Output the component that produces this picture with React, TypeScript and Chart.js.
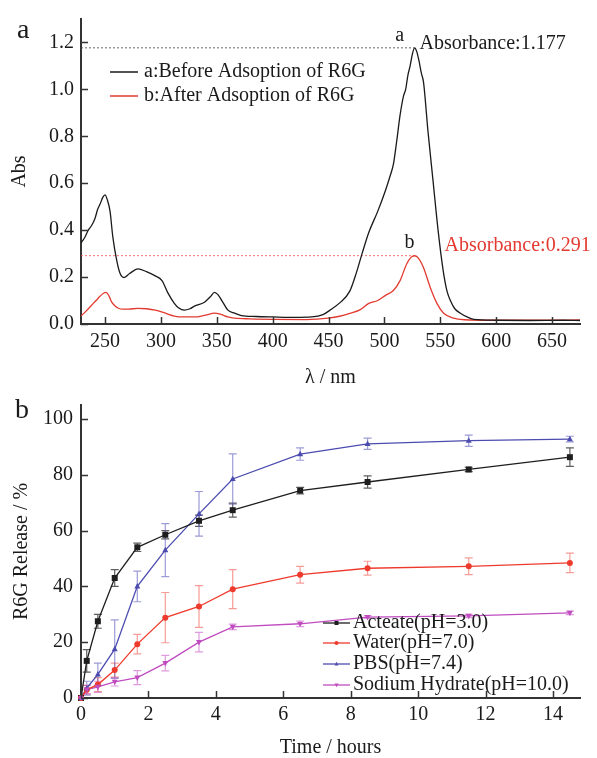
import React, { useEffect, useRef } from 'react';
import { Chart, registerables } from 'chart.js';

Chart.register(...registerables);

const FONT = "'Liberation Serif', 'Times New Roman', serif";
const AXIS_COLOR = '#333333';
const TEXT_COLOR = '#1a1a1a';

// ---------- Panel a : UV-vis spectra ----------
const SPEC_X_MIN = 228.5;
const SPEC_X_MAX = 675;
const SPEC_Y_MAX = 1.3;
const SPEC_X_TICKS = [250, 300, 350, 400, 450, 500, 550, 600, 650];
const SPEC_Y_TICKS = [0, 0.2, 0.4, 0.6, 0.8, 1.0, 1.2];

const WL_A = [228.5, 232, 235, 238, 241, 243.5, 245.5, 248, 250, 252, 254.5, 257, 260.5, 263.5, 267, 272, 279.5, 287, 294.5, 301, 306, 312, 316, 321, 326, 330, 339, 344, 348, 351, 354.5, 360, 366, 372, 385, 400, 420, 435, 445, 451, 460, 469, 475, 480, 486, 494, 501, 505, 508, 511, 514, 517, 519, 521, 523, 525, 527, 529, 531, 533, 535, 539, 543.5, 548, 552.5, 556, 559, 563, 568, 574, 580, 600, 630, 660, 675];
const ABS_A = [0.345, 0.37, 0.40, 0.42, 0.45, 0.49, 0.51, 0.54, 0.55, 0.53, 0.48, 0.37, 0.27, 0.215, 0.198, 0.215, 0.235, 0.223, 0.206, 0.185, 0.135, 0.088, 0.068, 0.059, 0.065, 0.076, 0.093, 0.115, 0.135, 0.125, 0.10, 0.059, 0.046, 0.036, 0.032, 0.03, 0.028, 0.03, 0.04, 0.058, 0.09, 0.14, 0.22, 0.30, 0.39, 0.48, 0.57, 0.63, 0.68, 0.78, 0.89, 0.97, 1.0, 1.06, 1.10, 1.15, 1.177, 1.16, 1.12, 1.07, 1.03, 0.82, 0.61, 0.40, 0.23, 0.14, 0.10, 0.065, 0.046, 0.03, 0.02, 0.016, 0.015, 0.016, 0.015];

const WL_B = [228.5, 233, 238, 242, 245.5, 249, 251, 253.5, 256, 259, 262, 266, 271, 279.5, 287, 295, 304, 312, 320, 330, 340, 348, 353, 360, 366, 380, 400, 430, 450, 460, 469, 478, 486, 494, 501, 508, 514, 520, 524, 527, 530, 535, 541, 547, 553, 562, 577, 600, 640, 675];
const ABS_B = [0.034, 0.055, 0.08, 0.10, 0.118, 0.132, 0.135, 0.12, 0.093, 0.077, 0.067, 0.063, 0.063, 0.067, 0.065, 0.059, 0.046, 0.034, 0.03, 0.03, 0.038, 0.046, 0.042, 0.03, 0.025, 0.022, 0.02, 0.019, 0.025, 0.033, 0.045, 0.06, 0.088, 0.10, 0.122, 0.143, 0.185, 0.257, 0.285, 0.291, 0.283, 0.24, 0.156, 0.088, 0.046, 0.025, 0.017, 0.016, 0.016, 0.017];

const PEAK_WL_A = 527;
const PEAK_ABS_A = 1.177;
const PEAK_WL_B = 527;
const PEAK_ABS_B = 0.291;

const SPEC_LABELS = ['a:Before Adsoption of R6G', 'b:After Adsoption of R6G'];
const SPEC_COLORS = ['#1a1a1a', '#e23a30'];

// ---------- Panel b : release ----------
const REL_X_MAX = 14.8;
const REL_Y_MAX = 105;
const REL_X_TICKS = [0, 2, 4, 6, 8, 10, 12, 14];
const REL_Y_TICKS = [0, 20, 40, 60, 80, 100];

const TIME = [0, 0.17, 0.5, 1, 1.67, 2.5, 3.5, 4.5, 6.5, 8.5, 11.5, 14.5];
const ACETATE = [0, 13.3, 27.5, 43, 54, 58.5, 63.5, 67.3, 74.3, 77.4, 81.9, 86.3];
const ACETATE_ERR = [0, 4, 2.5, 3, 1.5, 1.5, 2, 2.5, 1.2, 2.2, 0.8, 3.3];
const WATER = [0, 3, 4.8, 10, 19.3, 28.8, 32.8, 39, 44.2, 46.5, 47.2, 48.4];
const WATER_ERR = [0, 1.5, 2.5, 2.5, 3.5, 9, 7.5, 7, 3, 2.5, 3, 3.5];
const PBS = [0, 3.5, 8.5, 17.5, 40, 53, 66, 78.5, 87.4, 91.1, 92.2, 92.8];
const PBS_ERR = [0, 2.5, 4, 10.5, 5.5, 9.5, 8, 9, 2.2, 2, 2, 1];
const NAOH = [0, 3, 4, 5.8, 7.3, 12.5, 20, 25.5, 26.6, 29, 29.4, 30.5];
const NAOH_ERR = [0, 1.5, 2, 1.5, 2.5, 2.8, 3.5, 1, 1, 0.5, 0.6, 0.6];

const REL_LABELS = ['Acteate(pH=3.0)', 'Water(pH=7.0)', 'PBS(pH=7.4)', 'Sodium Hydrate(pH=10.0)'];
const REL_COLORS = ['#1e1e1e', '#ee3a2c', '#4c4cb0', '#c04cc0'];
const REL_ERR_COLORS = ['rgba(40,40,40,0.75)', 'rgba(240,90,80,0.6)', 'rgba(90,90,190,0.6)', 'rgba(200,90,200,0.6)'];
const REL_MARKERS = ['rect', 'circle', 'triangle', 'triangleDown'];

// ---------- helpers / plugins ----------
function toXY(xs: number[], ys: number[]) {
  return xs.map((x, i) => ({ x, y: ys[i] }));
}

const inwardTicks = {
  id: 'inwardTicks',
  afterDraw(chart: any) {
    const { ctx, chartArea, scales } = chart;
    ctx.save();
    ctx.strokeStyle = AXIS_COLOR;
    ctx.lineWidth = 1.5;
    scales.x.ticks.forEach((t: any) => {
      const px = Math.round(scales.x.getPixelForValue(t.value)) + 0.5;
      ctx.beginPath();
      ctx.moveTo(px, chartArea.bottom);
      ctx.lineTo(px, chartArea.bottom - 7);
      ctx.stroke();
    });
    scales.y.ticks.forEach((t: any) => {
      const py = Math.round(scales.y.getPixelForValue(t.value)) + 0.5;
      ctx.beginPath();
      ctx.moveTo(chartArea.left, py);
      ctx.lineTo(chartArea.left + 7, py);
      ctx.stroke();
    });
    ctx.restore();
  },
};

function drawMarker(ctx: CanvasRenderingContext2D, style: string, x: number, y: number, r: number, color: string) {
  ctx.save();
  ctx.fillStyle = color;
  ctx.beginPath();
  if (style === 'rect') {
    ctx.rect(x - r, y - r, 2 * r, 2 * r);
  } else if (style === 'circle') {
    ctx.arc(x, y, r, 0, Math.PI * 2);
  } else if (style === 'triangle') {
    ctx.moveTo(x, y - r * 1.1);
    ctx.lineTo(x + r, y + r * 0.7);
    ctx.lineTo(x - r, y + r * 0.7);
    ctx.closePath();
  } else {
    ctx.moveTo(x, y + r * 1.1);
    ctx.lineTo(x + r, y - r * 0.7);
    ctx.lineTo(x - r, y - r * 0.7);
    ctx.closePath();
  }
  ctx.fill();
  ctx.restore();
}

const specAnnotations = {
  id: 'specAnnotations',
  afterDatasetsDraw(chart: any) {
    const { ctx, scales } = chart;
    const { x, y } = scales;
    ctx.save();
    ctx.font = `20px ${FONT}`;
    ctx.textBaseline = 'alphabetic';
    // peak a
    const ax = x.getPixelForValue(PEAK_WL_A);
    const ay = y.getPixelForValue(PEAK_ABS_A);
    ctx.fillStyle = TEXT_COLOR;
    ctx.textAlign = 'center';
    ctx.fillText('a', ax - 15, ay - 7);
    ctx.textAlign = 'left';
    ctx.fillText('Absorbance:' + PEAK_ABS_A.toFixed(3), ax + 5, ay + 1);
    // peak b
    const bx = x.getPixelForValue(PEAK_WL_B);
    const by = y.getPixelForValue(PEAK_ABS_B);
    ctx.textAlign = 'center';
    ctx.fillText('b', bx - 5, by - 8);
    ctx.fillStyle = SPEC_COLORS[1];
    ctx.textAlign = 'left';
    ctx.fillText('Absorbance:' + PEAK_ABS_B.toFixed(3), bx + 30, by - 5);
    // legend
    ctx.textBaseline = 'middle';
    SPEC_LABELS.forEach((label, i) => {
      const ly = 72 + i * 24;
      ctx.strokeStyle = SPEC_COLORS[i];
      ctx.lineWidth = 1.5;
      ctx.beginPath();
      ctx.moveTo(110, ly);
      ctx.lineTo(138, ly);
      ctx.stroke();
      ctx.fillStyle = TEXT_COLOR;
      ctx.fillText(label, 144, ly);
    });
    // panel label
    ctx.font = `28px ${FONT}`;
    ctx.textBaseline = 'alphabetic';
    ctx.textAlign = 'left';
    ctx.fillText('a', 17, 38);
    ctx.restore();
  },
};

const errorBars = {
  id: 'errorBars',
  beforeDatasetsDraw(chart: any) {
    const { ctx, scales } = chart;
    ctx.save();
    ctx.lineWidth = 1.2;
    chart.data.datasets.forEach((ds: any) => {
      if (!ds.errors) return;
      ctx.strokeStyle = ds.errorColor;
      ds.data.forEach((p: any, i: number) => {
        const e = ds.errors[i];
        if (!e) return;
        const px = scales.x.getPixelForValue(p.x);
        const top = scales.y.getPixelForValue(p.y + e);
        const bot = scales.y.getPixelForValue(p.y - e);
        ctx.beginPath();
        ctx.moveTo(px, top);
        ctx.lineTo(px, bot);
        ctx.moveTo(px - 4, top);
        ctx.lineTo(px + 4, top);
        ctx.moveTo(px - 4, bot);
        ctx.lineTo(px + 4, bot);
        ctx.stroke();
      });
    });
    ctx.restore();
  },
};

const releaseMarkers = {
  id: 'releaseMarkers',
  afterDatasetsDraw(chart: any) {
    const { ctx, scales } = chart;
    chart.data.datasets.forEach((ds: any, di: number) => {
      ds.data.forEach((p: any) => {
        drawMarker(ctx, REL_MARKERS[di], scales.x.getPixelForValue(p.x), scales.y.getPixelForValue(p.y), 3, REL_COLORS[di]);
      });
    });
    // legend
    ctx.save();
    ctx.font = `20px ${FONT}`;
    ctx.textBaseline = 'middle';
    ctx.textAlign = 'left';
    const rows = [238, 258, 279, 300];
    REL_LABELS.forEach((label, i) => {
      const ly = rows[i];
      ctx.strokeStyle = REL_COLORS[i];
      ctx.lineWidth = 1.3;
      ctx.beginPath();
      ctx.moveTo(323, ly);
      ctx.lineTo(350, ly);
      ctx.stroke();
      drawMarker(ctx, REL_MARKERS[i], 336.5, ly, 2, REL_COLORS[i]);
      ctx.fillStyle = TEXT_COLOR;
      ctx.fillText(label, 353, ly);
    });
    ctx.font = `28px ${FONT}`;
    ctx.textBaseline = 'alphabetic';
    ctx.fillText('b', 15, 33);
    ctx.restore();
  },
};

function axisCommon() {
  return {
    grid: { display: false, drawTicks: false },
    border: { display: true, color: AXIS_COLOR, width: 2 },
  };
}

function SpectraChart() {
  const ref = useRef<HTMLCanvasElement>(null);
  useEffect(() => {
    const chart = new Chart(ref.current as HTMLCanvasElement, {
      type: 'line',
      data: {
        datasets: [
          {
            label: SPEC_LABELS[0],
            data: toXY(WL_A, ABS_A),
            borderColor: SPEC_COLORS[0],
            borderWidth: 1.3,
            pointRadius: 0,
            cubicInterpolationMode: 'monotone',
          },
          {
            label: SPEC_LABELS[1],
            data: toXY(WL_B, ABS_B),
            borderColor: SPEC_COLORS[1],
            borderWidth: 1.3,
            pointRadius: 0,
            cubicInterpolationMode: 'monotone',
          },
          {
            label: 'refA',
            data: [{ x: SPEC_X_MIN, y: PEAK_ABS_A }, { x: PEAK_WL_A, y: PEAK_ABS_A }],
            borderColor: '#444',
            borderWidth: 0.8,
            borderDash: [2, 2],
            pointRadius: 0,
          },
          {
            label: 'refB',
            data: [{ x: SPEC_X_MIN, y: PEAK_ABS_B }, { x: PEAK_WL_B, y: PEAK_ABS_B }],
            borderColor: '#e8554c',
            borderWidth: 0.8,
            borderDash: [2, 2],
            pointRadius: 0,
          },
        ],
      } as any,
      options: {
        responsive: false,
        animation: false,
        layout: { padding: { left: 0, right: 17, top: 16, bottom: 0 } },
        plugins: { legend: { display: false }, tooltip: { enabled: false } },
        scales: {
          x: {
            type: 'linear',
            min: SPEC_X_MIN,
            max: SPEC_X_MAX,
            ...axisCommon(),
            afterBuildTicks: (s: any) => { s.ticks = SPEC_X_TICKS.map((v) => ({ value: v })); },
            afterFit: (s: any) => { s.height = 61; },
            ticks: { padding: 6, color: TEXT_COLOR, font: { family: FONT, size: 20 }, maxRotation: 0 },
            title: { display: true, text: 'λ / nm', color: TEXT_COLOR, font: { family: FONT, size: 20, lineHeight: '14px' }, padding: { top: 0, bottom: 0 } },
          },
          y: {
            type: 'linear',
            min: 0,
            max: SPEC_Y_MAX,
            ...axisCommon(),
            afterBuildTicks: (s: any) => { s.ticks = SPEC_Y_TICKS.map((v) => ({ value: v })); },
            afterFit: (s: any) => { s.width = 81; },
            ticks: { padding: 7, color: TEXT_COLOR, font: { family: FONT, size: 20 }, callback: (v: any) => Number(v).toFixed(1) },
            title: { display: true, text: 'Abs', color: TEXT_COLOR, font: { family: FONT, size: 20, lineHeight: 1 }, padding: { top: 10, bottom: 0 } },
          },
        },
      } as any,
      plugins: [inwardTicks, specAnnotations],
    });
    return () => chart.destroy();
  }, []);
  return <canvas ref={ref} width={597} height={385} style={{ position: 'absolute', left: 0, top: 0 }} />;
}

function ReleaseChart() {
  const ref = useRef<HTMLCanvasElement>(null);
  useEffect(() => {
    const series = [ACETATE, WATER, PBS, NAOH];
    const errs = [ACETATE_ERR, WATER_ERR, PBS_ERR, NAOH_ERR];
    const chart = new Chart(ref.current as HTMLCanvasElement, {
      type: 'line',
      data: {
        datasets: series.map((s, i) => ({
          label: REL_LABELS[i],
          data: toXY(TIME, s),
          errors: errs[i],
          errorColor: REL_ERR_COLORS[i],
          borderColor: REL_COLORS[i],
          borderWidth: 1.3,
          pointRadius: 0,
          tension: 0,
        })),
      } as any,
      options: {
        responsive: false,
        animation: false,
        layout: { padding: { left: 0, right: 17, top: 5, bottom: 0 } },
        plugins: { legend: { display: false }, tooltip: { enabled: false } },
        scales: {
          x: {
            type: 'linear',
            min: 0,
            max: REL_X_MAX,
            ...axisCommon(),
            afterBuildTicks: (s: any) => { s.ticks = REL_X_TICKS.map((v) => ({ value: v })); },
            afterFit: (s: any) => { s.height = 60; },
            ticks: { padding: 5, color: TEXT_COLOR, font: { family: FONT, size: 20 }, maxRotation: 0 },
            title: { display: true, text: 'Time / hours', color: TEXT_COLOR, font: { family: FONT, size: 20, lineHeight: 1 }, padding: { top: 0, bottom: 0 } },
          },
          y: {
            type: 'linear',
            min: 0,
            max: REL_Y_MAX,
            ...axisCommon(),
            afterBuildTicks: (s: any) => { s.ticks = REL_Y_TICKS.map((v) => ({ value: v })); },
            afterFit: (s: any) => { s.width = 81; },
            ticks: { padding: 8, color: TEXT_COLOR, font: { family: FONT, size: 20 } },
            title: { display: true, text: 'R6G Release / %', color: TEXT_COLOR, font: { family: FONT, size: 20, lineHeight: 1 }, padding: { top: 12, bottom: 0 } },
          },
        },
      } as any,
      plugins: [inwardTicks, errorBars, releaseMarkers],
    });
    return () => chart.destroy();
  }, []);
  return <canvas ref={ref} width={597} height={373} style={{ position: 'absolute', left: 0, top: 385 }} />;
}

export default function App() {
  return (
    <div style={{ position: 'absolute', left: 0, top: 0, width: 597, height: 758, background: '#ffffff', overflow: 'hidden' }}>
      <SpectraChart />
      <ReleaseChart />
    </div>
  );
}
